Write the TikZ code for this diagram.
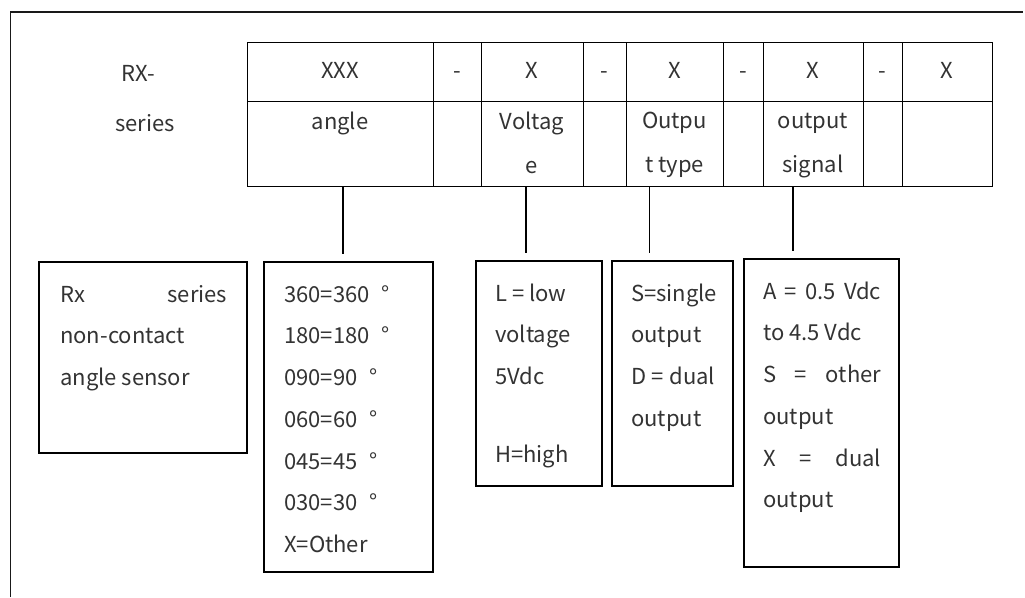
\documentclass[tikz,border=0pt]{standalone}
\usepackage{fontspec}
\setmainfont{Noto Sans CJK SC}
\usetikzlibrary{positioning}

\newcommand{\lh}{\vphantom{lg}}
\newcommand{\topstrut}{\rule{0pt}{20pt}}
\newcommand{\botstrut}{\rule[-5pt]{0pt}{5pt}}
\newcommand{\rowstrut}{\rule[-5pt]{0pt}{24pt}}
\newcommand{\degsign}{\hspace{12pt}°}

\tikzset{
    frame/.style={line width=1.6pt, black!90},
    cell/.style={draw, line width=1pt, inner sep=0pt, outer sep=0pt, minimum height=59pt,
                 align=center, text=black!80, font=\fontsize{22pt}{44pt}\selectfont},
    cellb/.style={cell, minimum height=85pt},
    label/.style={inner sep=0pt, text=black!80, font=\fontsize{22pt}{44pt}\selectfont},
    infobox/.style={draw, line width=1.3pt, anchor=north west, inner sep=0pt, outer sep=0pt},
    infotext/.style={anchor=north west, align=left, inner sep=0pt, text=black!80,
                     font=\fontsize{22pt}{41.7pt}\selectfont},
    link/.style={line width=1.3pt, shorten >=8pt}
}

\begin{document}
\begin{tikzpicture}[x=1pt, y=-1pt]
    \useasboundingbox (0,0) rectangle (1025,597);
    % Outer frame
    \draw[frame] (10.5,597) -- (10.5,12) -- (1023,12);
    % Series name
    \node[label] (rx)     at (138,73)  {RX-};
    \node[label] (series) at (145,123) {series};
    % Code table, first row
    \node[cell, minimum width=186pt, anchor=north west] (xxx) at (247,42) {\rowstrut XXX};
    \node[cell, minimum width=48pt,  right=0pt of xxx]  (d1)  {\rowstrut -};
    \node[cell, minimum width=102pt, right=0pt of d1]   (xv)  {\rowstrut X};
    \node[cell, minimum width=43pt,  right=0pt of xv]   (d2)  {\rowstrut -};
    \node[cell, minimum width=97pt,  right=0pt of d2]   (xo)  {\rowstrut X};
    \node[cell, minimum width=40pt,  right=0pt of xo]   (d3)  {\rowstrut -};
    \node[cell, minimum width=100pt, right=0pt of d3]   (xs)  {\rowstrut X};
    \node[cell, minimum width=39pt,  right=0pt of xs]   (d4)  {\rowstrut -};
    \node[cell, minimum width=90pt,  right=0pt of d4]   (xl)  {\rowstrut X};
    % Code table, second row
    \node[cellb, minimum width=186pt, below=0pt of xxx] (angle)   {\topstrut angle\\\botstrut};
    \node[cellb, minimum width=48pt,  below=0pt of d1]  (e1)      {};
    \node[cellb, minimum width=102pt, below=0pt of xv]  (voltage) {\topstrut Voltag\\e\botstrut};
    \node[cellb, minimum width=43pt,  below=0pt of d2]  (e2)      {};
    \node[cellb, minimum width=97pt,  below=0pt of xo]  (outtype) {\topstrut Outpu\\t type\botstrut};
    \node[cellb, minimum width=40pt,  below=0pt of d3]  (e3)      {};
    \node[cellb, minimum width=100pt, below=0pt of xs]  (outsig)  {\topstrut output\\signal\botstrut};
    \node[cellb, minimum width=39pt,  below=0pt of d4]  (e4)      {};
    \node[cellb, minimum width=90pt,  below=0pt of xl]  (e5)      {};
    % Description boxes
    \node[infobox, minimum width=208pt, minimum height=191pt] (rxbox)   at (39,262)  {};
    \node[infobox, minimum width=169pt, minimum height=310pt] (angbox)  at (264,262) {};
    \node[infobox, minimum width=126pt, minimum height=225pt] (voltbox) at (476,261) {};
    \node[infobox, minimum width=121pt, minimum height=225pt] (otbox)   at (612,261) {};
    \node[infobox, minimum width=155pt, minimum height=308pt] (sigbox)  at (744,259) {};
    % Box texts
    \node[infotext] (rxtext) at ([xshift=21pt, yshift=-22.5pt]rxbox.north west)
        {\lh\makebox[167pt][s]{Rx series}\\non-contact\\angle sensor};
    \node[infotext] (angtext) at ([xshift=20pt, yshift=-22.5pt]angbox.north west)
        {\lh360=360\degsign\\180=180\degsign\\090=90\degsign\\060=60\degsign\\045=45\degsign\\030=30\degsign\\X=Other};
    \node[infotext] (volttext) at ([xshift=19pt, yshift=-22.5pt]voltbox.north west)
        {\lh L = low\\voltage\\5Vdc\\[36pt]H=high};
    \node[infotext] (ottext) at ([xshift=19pt, yshift=-22.5pt]otbox.north west)
        {\lh S=single\\output\\\makebox[84pt][s]{D = dual}\\output};
    \node[infotext] (sigtext) at ([xshift=19pt, yshift=-22.5pt]sigbox.north west)
        {\lh\makebox[118pt][s]{A = 0.5 Vdc}\\to 4.5 Vdc\\\makebox[118pt][s]{S = other}\\output\\\makebox[118pt][s]{X = dual}\\output};
    % Connectors
    \draw[link] ([xshift=3pt]angle.south)    -- ([xshift=3pt]angle.south |- angbox.north);
    \draw[link] ([xshift=-6pt]voltage.south) -- ([xshift=-6pt]voltage.south |- voltbox.north);
    \draw[link] ([xshift=-25pt]outtype.south) -- ([xshift=-25pt]outtype.south |- otbox.north);
    \draw[link] ([xshift=-20pt]outsig.south) -- ([xshift=-20pt]outsig.south |- sigbox.north);
\end{tikzpicture}
\end{document}
